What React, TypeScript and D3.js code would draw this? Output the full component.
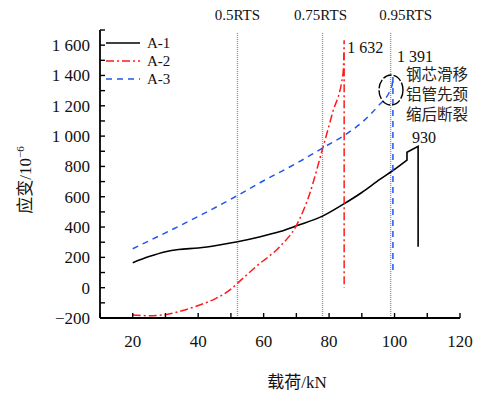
import * as d3 from 'd3';

// 载荷 (kN) 与应变 (10^-6)
const loadA1 = [20, 25, 30, 34, 40, 46, 52, 59, 65, 70, 78, 84, 90, 95.5, 99.5, 103.8, 103.8, 107.2, 107.2];
const strainA1 = [165, 205, 237, 252, 262, 280, 303, 336, 370, 408, 472, 546, 628, 714, 773, 842, 893, 932, 270];

const loadA2 = [20, 25, 30, 35, 40, 45, 50, 52.8, 58, 65, 70, 74, 77.8, 81, 84.3, 84.6, 84.6];
const strainA2 = [-180, -185, -178, -152, -118, -75, -10, 45, 145, 272, 410, 615, 900, 1150, 1420, 1632, 0];

const loadA3 = [20, 30, 40, 52, 59, 70, 78.7, 85, 90, 94.6, 99.2, 99.5, 99.5];
const strainA3 = [257, 362, 470, 608, 694, 820, 930, 1010, 1090, 1190, 1330, 1391, 105];

const rtsLoads = [52, 78, 98.8];
const rtsLabels = ['0.5RTS', '0.75RTS', '0.95RTS'];
const rtsLabelShift = [0, -2, 15];

const xTicks = [20, 40, 60, 80, 100, 120];
const yTicks = [-200, 0, 200, 400, 600, 800, 1000, 1200, 1400, 1600];

const seriesNames = ['A-1', 'A-2', 'A-3'];
const seriesColors = ['#000000', '#ff1a1a', '#2255ee'];
const seriesDash = ['none', '8,3,2,3', '6,5'];

const fontLatin = "'Liberation Serif', 'Times New Roman', serif";
const fontCjk = "'Liberation Serif', 'Noto Sans CJK SC', serif";

// 千位空格, 如 1 600
const fmt = (v: number) => {
    const s = String(Math.abs(v));
    const body = s.length > 3 ? s.slice(0, s.length - 3) + ' ' + s.slice(-3) : s;
    return (v < 0 ? '\u2212' : '') + body;
};

export default function App() {
    const width = 480;
    const height = 394;
    const margin = { top: 30, right: 20, bottom: 76, left: 100 };

    const x = d3.scaleLinear().domain([10, 120]).range([margin.left, width - margin.right]);
    const y = d3.scaleLinear().domain([-200, 1700]).range([height - margin.bottom, margin.top]);

    const smooth = d3.line<[number, number]>()
        .x(d => x(d[0]))
        .y(d => y(d[1]))
        .curve(d3.curveMonotoneX);
    const straight = d3.line<[number, number]>()
        .x(d => x(d[0]))
        .y(d => y(d[1]));

    // 平滑段 (x 递增) + 末尾突变段 (直线)
    const pathFor = (pts: [number, number][]) => {
        let k = 1;
        while (k < pts.length && pts[k][0] > pts[k - 1][0]) k++;
        const head = smooth(pts.slice(0, k)) || '';
        const tail = straight(pts.slice(k - 1)) || '';
        return head + tail.replace(/^M/, 'L');
    };

    const series = [
        d3.zip(loadA1, strainA1) as [number, number][],
        d3.zip(loadA2, strainA2) as [number, number][],
        d3.zip(loadA3, strainA3) as [number, number][]
    ];

    const xMinor = d3.range(10, 121, 10);
    const yMinor = d3.range(-200, 1701, 100);
    const bottom = y(-200);
    const left = x(10);

    return (
        <div style={{ position: 'absolute', left: 0, top: 0 }}>
            <svg width={width} height={height} style={{ display: 'block', background: '#fff' }}>
                {/* RTS 参考线 */}
                {rtsLoads.map((v, i) => (
                    <g key={'rts' + i}>
                        <line x1={x(v)} x2={x(v)} y1={33} y2={bottom}
                            stroke="#7f9c9c" strokeWidth={1.4} strokeDasharray="1,1" />
                        <text x={x(v) + rtsLabelShift[i]} y={20} textAnchor="middle"
                            fontFamily={fontLatin} fontSize={15} fill="#111">{rtsLabels[i]}</text>
                    </g>
                ))}

                {/* 曲线 */}
                {series.map((s, i) => (
                    <path key={'s' + i} d={pathFor(s)} fill="none"
                        stroke={seriesColors[i]} strokeWidth={i === 0 ? 1.6 : 1.5}
                        strokeDasharray={seriesDash[i]} />
                ))}

                {/* 坐标轴 */}
                <line x1={left} x2={left} y1={y(1700)} y2={bottom} stroke="#000" strokeWidth={1.8} />
                <line x1={left} x2={x(120)} y1={bottom} y2={bottom} stroke="#000" strokeWidth={1.8} />
                {xMinor.map(v => (
                    <line key={'xt' + v} x1={x(v)} x2={x(v)} y1={bottom} y2={bottom - 5} stroke="#000" strokeWidth={1.4} />
                ))}
                {yMinor.map(v => (
                    <line key={'yt' + v} x1={left} x2={left + 5} y1={y(v)} y2={y(v)} stroke="#000" strokeWidth={1.4} />
                ))}
                {xTicks.map(v => (
                    <text key={'xl' + v} x={x(v)} y={347} textAnchor="middle"
                        fontFamily={fontLatin} fontSize={17} fill="#111">{v}</text>
                ))}
                {yTicks.map(v => (
                    <text key={'yl' + v} x={90} y={y(v)} dy="0.35em" textAnchor="end"
                        fontFamily={fontLatin} fontSize={17} fill="#111">{fmt(v)}</text>
                ))}

                <text x={297} y={388} textAnchor="middle" fontFamily={fontCjk} fontSize={17} fill="#111">载荷/kN</text>
                <text transform="translate(31,180) rotate(-90)" textAnchor="middle"
                    fontFamily={fontCjk} fontSize={17} fill="#111">
                    应变/10<tspan dy={-7} fontSize={11}>{'\u2212'}6</tspan>
                </text>

                {/* 图例 */}
                {seriesNames.map((n, i) => (
                    <g key={'lg' + i}>
                        <line x1={106} x2={140} y1={43 + i * 18} y2={43 + i * 18}
                            stroke={seriesColors[i]} strokeWidth={1.6} strokeDasharray={seriesDash[i]} />
                        <text x={147} y={48 + i * 18} fontFamily={fontLatin} fontSize={15} fill="#111">{n}</text>
                    </g>
                ))}

                {/* 标注 */}
                <text x={x(84.6) + 3} y={53} fontFamily={fontLatin} fontSize={16} fill="#111">{fmt(1632)}</text>
                <text x={397} y={62} fontFamily={fontLatin} fontSize={16} fill="#111">{fmt(1391)}</text>
                <text x={424} y={143} textAnchor="middle" fontFamily={fontLatin} fontSize={16} fill="#111">930</text>
                <ellipse cx={391} cy={90} rx={12} ry={15} fill="none" stroke="#000" strokeWidth={1.4} strokeDasharray="9,2" />
                {['钢芯滑移', '铝管先颈', '缩后断裂'].map((t, i) => (
                    <text key={'ann' + i} x={406} y={80 + i * 20} fontFamily={fontCjk} fontSize={15.5} fill="#222">{t}</text>
                ))}
            </svg>
        </div>
    );
}
